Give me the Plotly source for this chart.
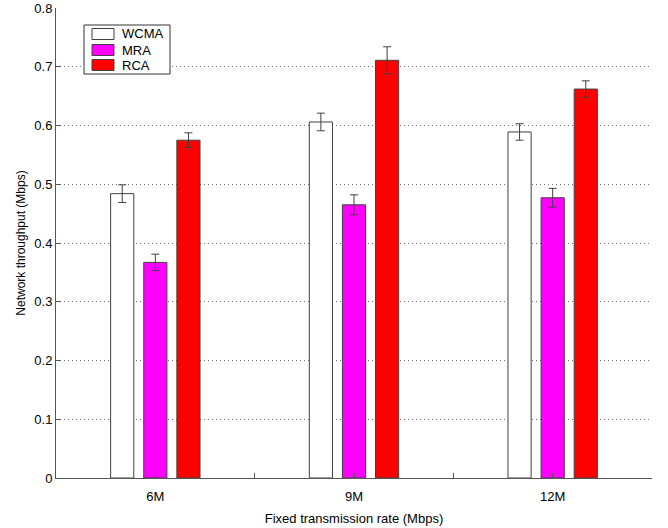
import plotly.graph_objects as go

categories = ["6M", "9M", "12M"]
series_names = ["WCMA", "MRA", "RCA"]
wcma = [0.484, 0.606, 0.589]
wcma_err = [0.015, 0.015, 0.014]
mra = [0.367, 0.465, 0.477]
mra_err = [0.014, 0.017, 0.016]
rca = [0.575, 0.711, 0.662]
rca_err = [0.0125, 0.023, 0.014]
y_ticks = [0, 0.1, 0.2, 0.3, 0.4, 0.5, 0.6, 0.7, 0.8]

W, H = 668, 528
ML, MR, MT, MB = 56, 16, 8, 50
PW, PH = W - ML - MR, H - MT - MB

xpos = [1, 2, 3]
colors = ["#ffffff", "#ff00ff", "#ff0000"]
vals = [wcma, mra, rca]
errs = [wcma_err, mra_err, rca_err]
edge = "#404040"

fig = go.Figure()
for name, v, e, c in zip(series_names, vals, errs, colors):
    fig.add_trace(go.Bar(
        x=xpos, y=v, name=name,
        marker=dict(color=c, line=dict(color=edge, width=1)),
        error_y=dict(type="data", array=e, visible=True, color=edge, thickness=1, width=4),
    ))


def px_x(p):
    return (p - ML) / PW


def px_y(p):
    return 1 - (p - MT) / PH


# legend drawn as a box (pixel layout of reference)
shapes = [dict(type="rect", xref="paper", yref="paper",
               x0=px_x(84), x1=px_x(170), y0=px_y(74), y1=px_y(25),
               line=dict(color="#333333", width=1), fillcolor="white", layer="above")]
annotations = []
row_centers = [34, 50, 65]
for name, c, yc in zip(series_names, colors, row_centers):
    shapes.append(dict(type="rect", xref="paper", yref="paper",
                       x0=px_x(92), x1=px_x(114), y0=px_y(yc + 5.5), y1=px_y(yc - 5.5),
                       line=dict(color=edge, width=1), fillcolor=c, layer="above"))
    annotations.append(dict(xref="paper", yref="paper", x=px_x(120), y=px_y(yc),
                            xanchor="left", yanchor="middle", text=name, showarrow=False,
                            font=dict(size=13, color="black")))

font = "Liberation Sans, Arial, sans-serif"
fig.update_layout(
    width=W, height=H,
    margin=dict(l=ML, r=MR, t=MT, b=MB),
    plot_bgcolor="white", paper_bgcolor="white",
    barmode="group", bargap=0.5, bargroupgap=0.3,
    font=dict(family=font, size=13, color="black"),
    showlegend=False,
    shapes=shapes, annotations=annotations,
    xaxis=dict(
        range=[0.5, 3.5],
        tickvals=[1, 1.5, 2, 2.5, 3, 3.5],
        ticktext=[categories[0], "", categories[1], "", categories[2], ""],
        ticks="inside", ticklen=5, tickcolor="#555555",
        showline=True, linecolor="#555555", linewidth=1,
        showgrid=False, zeroline=False, automargin=False,
        ticklabelstandoff=6,
        tickfont=dict(size=13),
        title=dict(text="Fixed transmission rate (Mbps)", font=dict(size=13), standoff=11),
    ),
    yaxis=dict(
        range=[0, 0.8],
        tickvals=y_ticks,
        ticktext=[("%g" % t) for t in y_ticks],
        ticks="inside", ticklen=5, tickcolor="#555555",
        showline=True, linecolor="#555555", linewidth=1,
        showgrid=True, gridcolor="#707070", griddash="1px,3px", gridwidth=1,
        zeroline=False, automargin=False,
        tickfont=dict(size=13),
        title=dict(text="Network throughput (Mbps)", font=dict(size=12), standoff=6),
    ),
)

fig.write_html("out.html", config={"displayModeBar": False},
               post_script="document.body.style.margin='0';")
